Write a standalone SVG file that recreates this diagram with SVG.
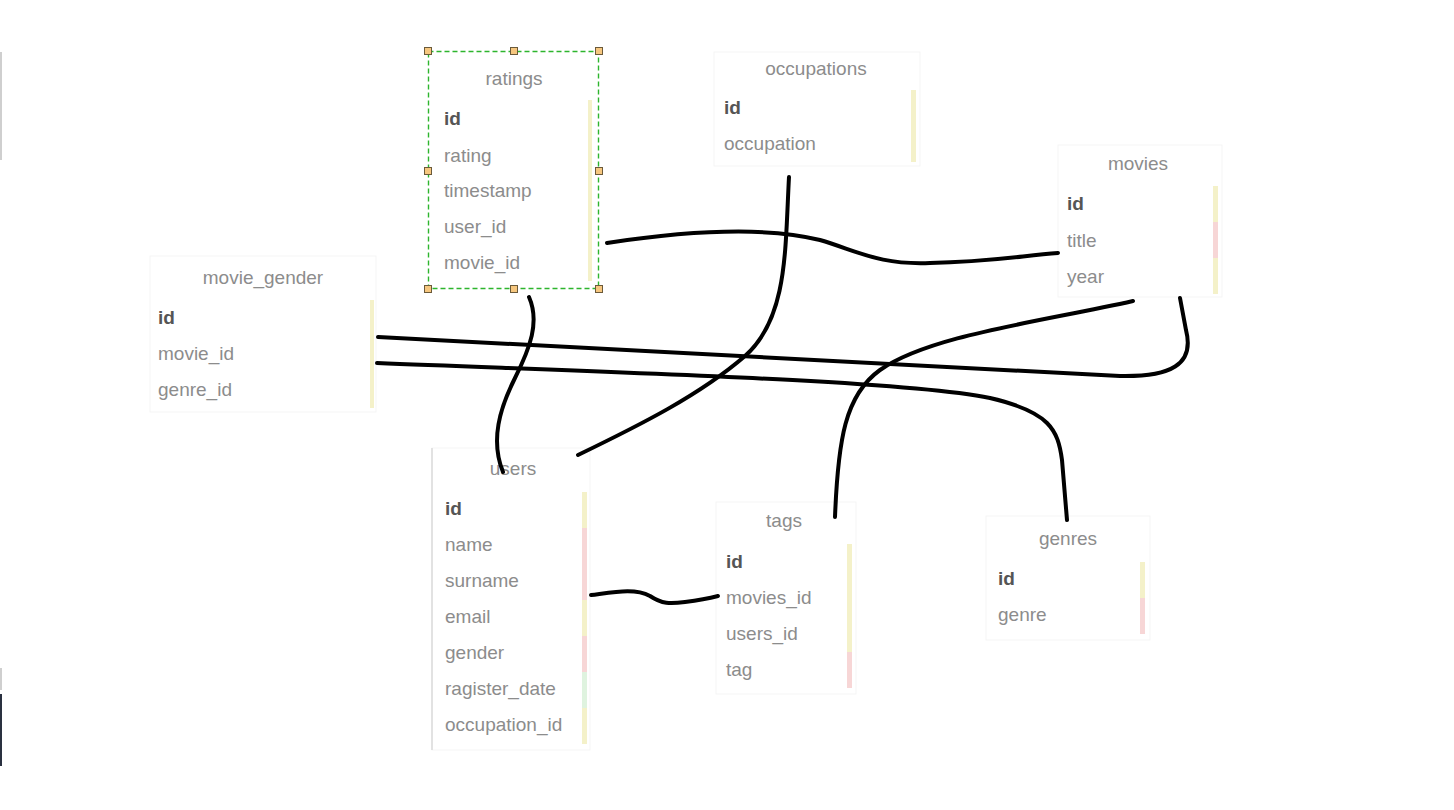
<svg xmlns="http://www.w3.org/2000/svg" width="1454" height="810" viewBox="0 0 1454 810">
<style>
.t{font-family:"Liberation Sans",Arial,sans-serif;font-size:19px;fill:#8c8c8c}
.h{text-anchor:middle}
.k{font-weight:bold;fill:#555}
.box{fill:#fff;stroke:#f5f5f5;stroke-width:1}
.y{fill:#f4f1c9}
.p{fill:#f7d6d6}
.g{fill:#dff3df}
.c{fill:none;stroke:#000;stroke-width:4;stroke-linecap:round}
.hd{fill:#f6c77f;stroke:#6b5a3a;stroke-width:1}
</style>
<rect width="1454" height="810" fill="#fff"/>
<rect x="0" y="52" width="2" height="108" fill="#cfcfcf"/>
<rect x="0" y="668" width="2" height="22" fill="#cfcfcf"/>
<rect x="0" y="694" width="2" height="72" fill="#2a3140"/>

<g id="ratings">
<rect class="y" x="588" y="100" width="4" height="181"/>
<text class="t h" x="514" y="85">ratings</text>
<text class="t k" x="444" y="125">id</text>
<text class="t" x="444" y="162">rating</text>
<text class="t" x="444" y="197">timestamp</text>
<text class="t" x="444" y="233">user_id</text>
<text class="t" x="444" y="269">movie_id</text>
<rect x="428.5" y="51.5" width="170" height="237" fill="none" stroke="#2db52d" stroke-width="1.4" stroke-dasharray="5,3"/>
<rect class="hd" x="424.5" y="47.5" width="7" height="7"/>
<rect class="hd" x="510.5" y="47.5" width="7" height="7"/>
<rect class="hd" x="595.5" y="47.5" width="7" height="7"/>
<rect class="hd" x="424.5" y="167.5" width="7" height="7"/>
<rect class="hd" x="595.5" y="167.5" width="7" height="7"/>
<rect class="hd" x="424.5" y="285.5" width="7" height="7"/>
<rect class="hd" x="510.5" y="285.5" width="7" height="7"/>
<rect class="hd" x="595.5" y="285.5" width="7" height="7"/>
</g>

<g id="occupations">
<rect class="box" x="714" y="52" width="206" height="114"/>
<rect class="y" x="911" y="90" width="5" height="72"/>
<text class="t h" x="816" y="75">occupations</text>
<text class="t k" x="724" y="114">id</text>
<text class="t" x="724" y="150">occupation</text>
</g>

<g id="movies">
<rect class="box" x="1058" y="145" width="164" height="152"/>
<rect class="y" x="1213" y="186" width="5" height="36"/>
<rect class="p" x="1213" y="222" width="5" height="36"/>
<rect class="y" x="1213" y="258" width="5" height="36"/>
<text class="t h" x="1138" y="170">movies</text>
<text class="t k" x="1067" y="210">id</text>
<text class="t" x="1067" y="247">title</text>
<text class="t" x="1067" y="283">year</text>
</g>

<g id="movie_gender">
<rect class="box" x="150" y="256" width="226" height="156"/>
<rect class="y" x="370" y="300" width="4" height="108"/>
<text class="t h" x="263" y="284">movie_gender</text>
<text class="t k" x="158" y="324">id</text>
<text class="t" x="158" y="360">movie_id</text>
<text class="t" x="158" y="396">genre_id</text>
</g>

<g id="users">
<rect class="box" x="432" y="448" width="158" height="302"/>
<rect x="431" y="448" width="2" height="302" fill="#e2e2e2"/>
<rect class="y" x="582" y="492" width="5" height="36"/>
<rect class="p" x="582" y="528" width="5" height="72"/>
<rect class="y" x="582" y="600" width="5" height="36"/>
<rect class="p" x="582" y="636" width="5" height="36"/>
<rect class="g" x="582" y="672" width="5" height="36"/>
<rect class="y" x="582" y="708" width="5" height="36"/>
<text class="t h" x="513" y="475">users</text>
<text class="t k" x="445" y="515">id</text>
<text class="t" x="445" y="551">name</text>
<text class="t" x="445" y="587">surname</text>
<text class="t" x="445" y="623">email</text>
<text class="t" x="445" y="659">gender</text>
<text class="t" x="445" y="695">ragister_date</text>
<text class="t" x="445" y="731">occupation_id</text>
</g>

<g id="tags">
<rect class="box" x="716" y="502" width="140" height="192"/>
<rect class="y" x="847" y="544" width="5" height="108"/>
<rect class="p" x="847" y="652" width="5" height="36"/>
<text class="t h" x="784" y="527">tags</text>
<text class="t k" x="726" y="568">id</text>
<text class="t" x="726" y="604">movies_id</text>
<text class="t" x="726" y="640">users_id</text>
<text class="t" x="726" y="676">tag</text>
</g>

<g id="genres">
<rect class="box" x="986" y="516" width="164" height="124"/>
<rect class="y" x="1140" y="562" width="5" height="36"/>
<rect class="p" x="1140" y="598" width="5" height="36"/>
<text class="t h" x="1068" y="545">genres</text>
<text class="t k" x="998" y="585">id</text>
<text class="t" x="998" y="621">genre</text>
</g>

<g id="connectors">
<path class="c" d="M529,297 C540,322 530,348 515,378 C500,408 490,440 503,472"/>
<path class="c" d="M789,177 C785,250 788,318 745,356 C700,395 640,425 578,455"/>
<path class="c" d="M607,243 C680,232 760,225 820,240 C860,252 880,265 930,263 C990,262 1020,256 1058,253"/>
<path class="c" d="M378,337 C700,354 1000,372 1120,376 C1170,377 1195,365 1186,330 L1180,298"/>
<path class="c" d="M377,363 C600,372 900,380 990,398 C1050,412 1058,430 1062,460 L1067,520"/>
<path class="c" d="M835,517 C838,440 845,395 880,370 C930,335 1040,322 1133,301"/>
<path class="c" d="M591,595 C615,592 635,588 650,596 C662,604 670,604 685,602 C700,600 710,598 718,596"/>
</g>
</svg>
